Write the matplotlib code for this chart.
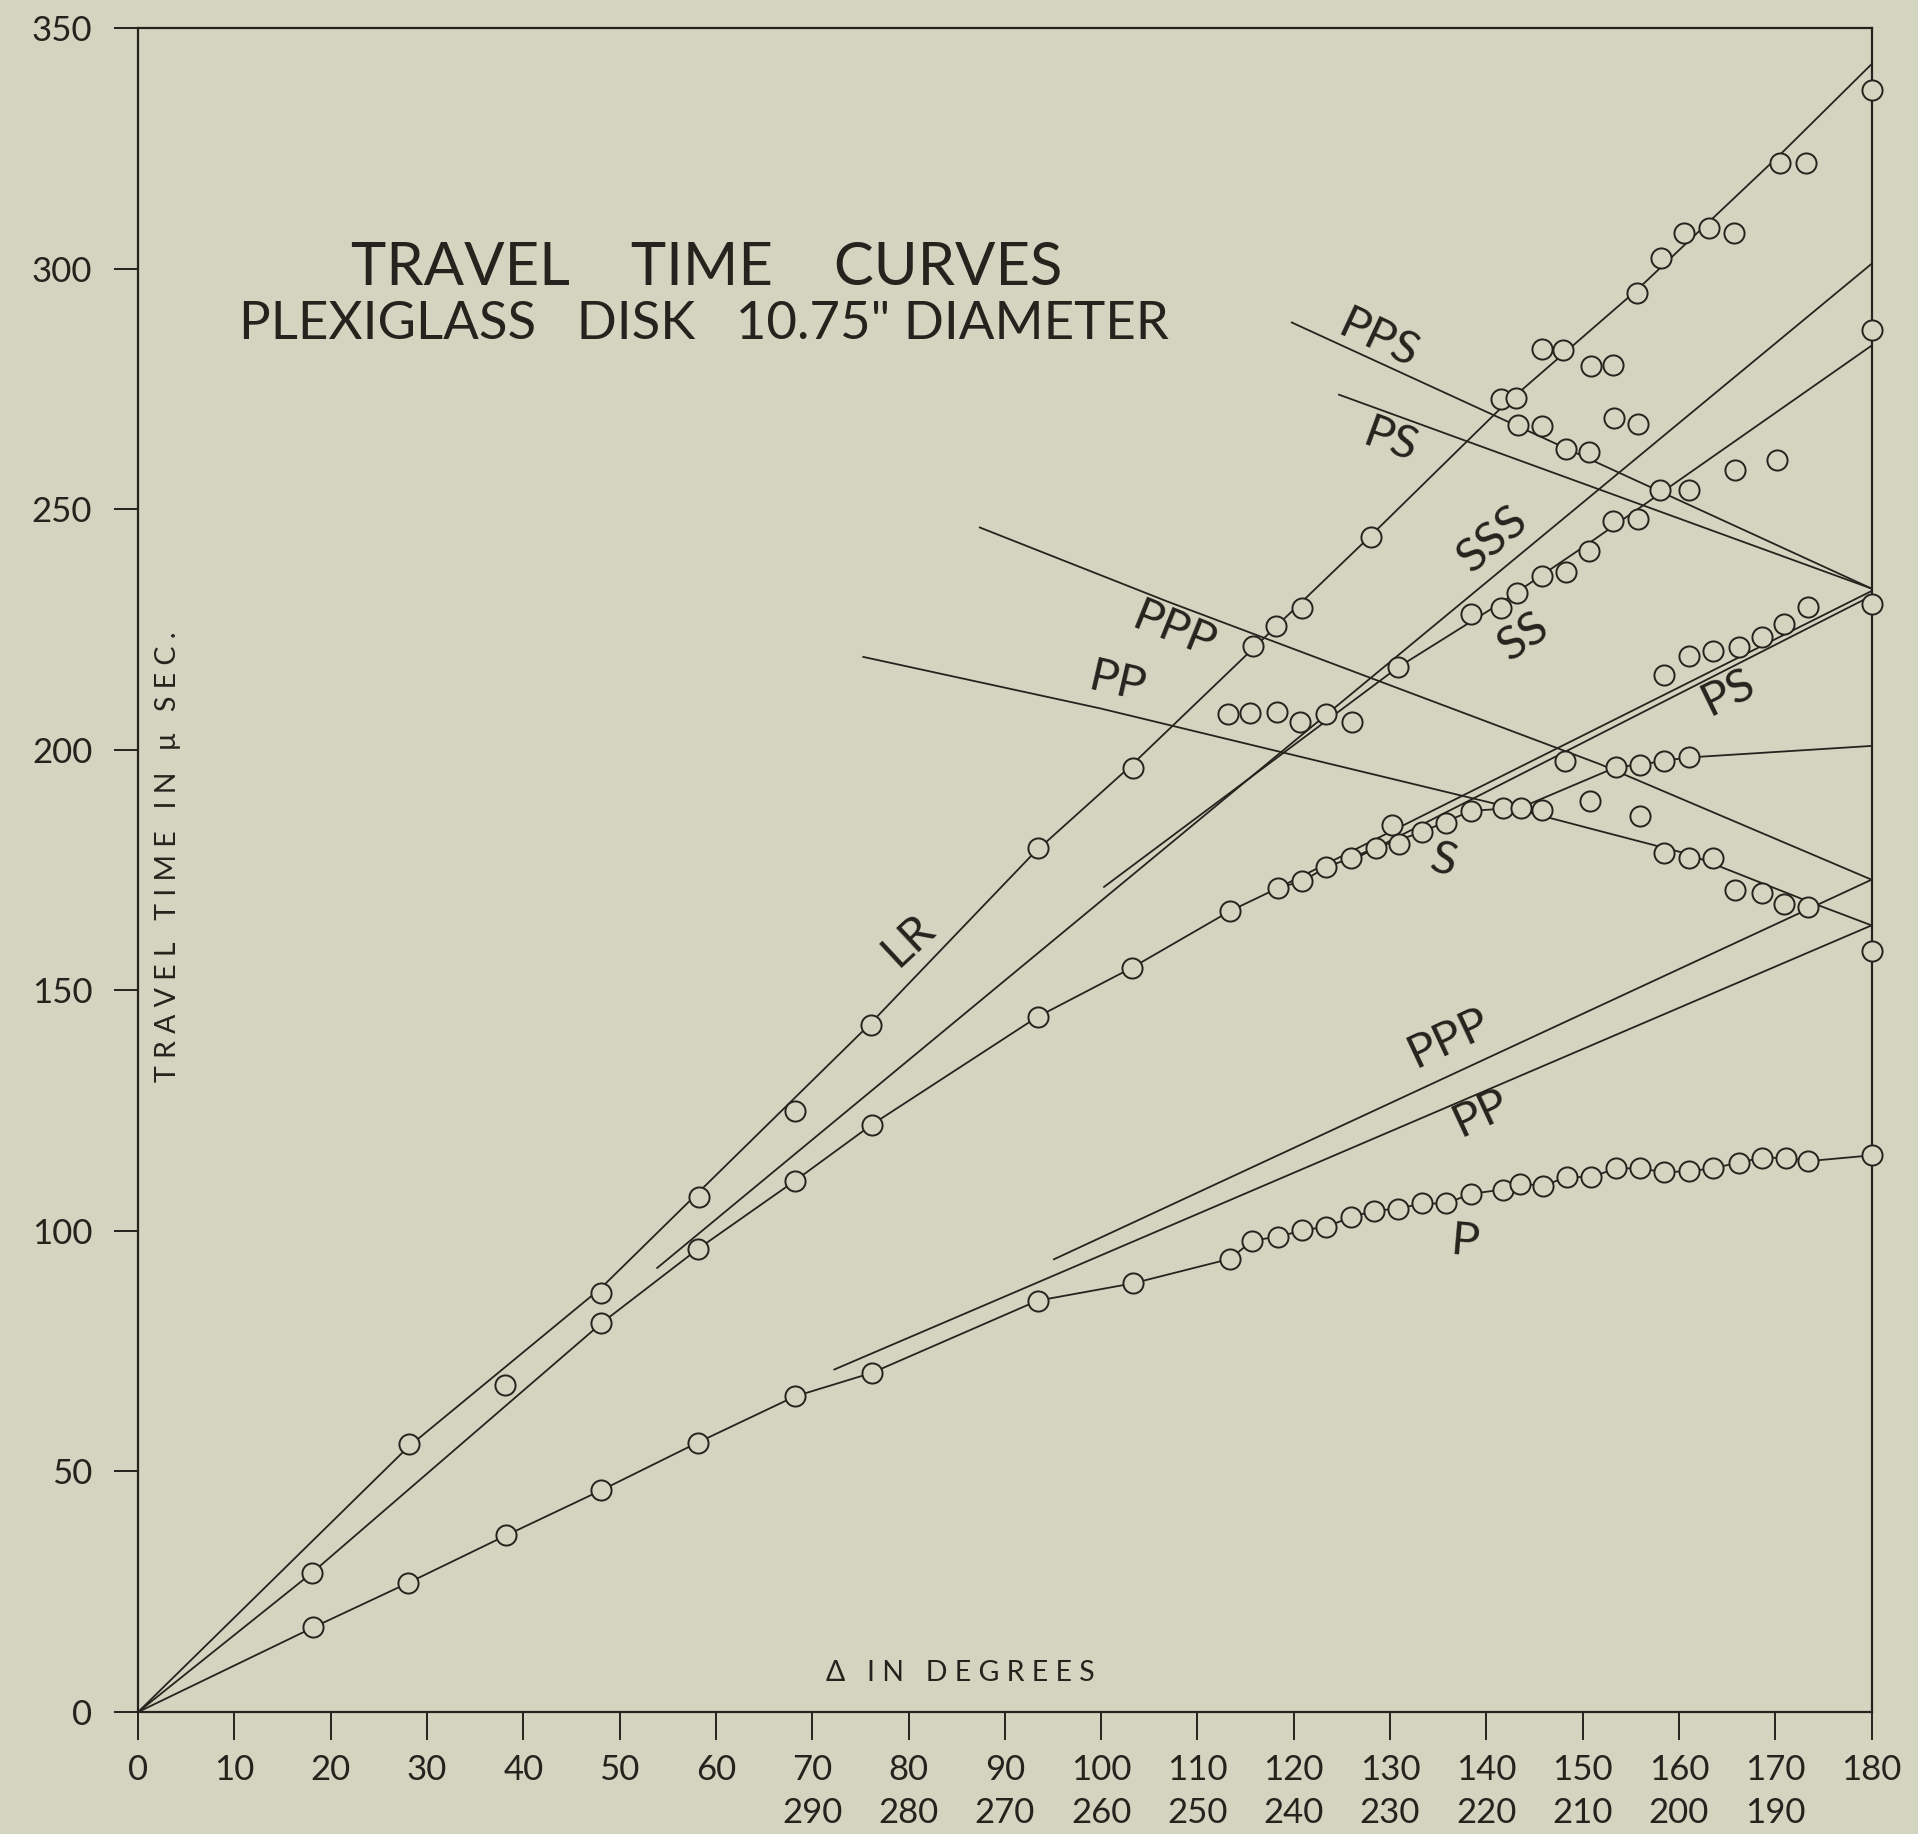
import matplotlib
matplotlib.use('Agg')
import matplotlib.pyplot as plt

# ---------------- data ----------------
# measured points (open circles), grouped by the branch they sit on
lr_x = [28.1, 38.1, 48.1, 58.2, 68.2, 76.1, 93.4, 103.3, 115.8, 118.2, 120.9, 128.0,
        141.5, 143.1, 145.8, 148.0, 150.9, 153.1, 155.6, 158.1, 160.5, 163.1, 165.7,
        170.5, 173.2, 180.0]
lr_y = [55.8, 68.0, 87.1, 107.0, 125.0, 142.8, 179.5, 196.3, 221.5, 225.7, 229.5, 244.3,
        272.8, 273.2, 283.2, 283.0, 279.8, 280.0, 295.0, 302.2, 307.4, 308.4, 307.4,
        322.0, 322.0, 337.2]

s_x = [18.1, 48.1, 58.1, 68.2, 76.2, 93.4, 103.2, 113.4, 118.4, 120.9, 123.4, 125.9,
       128.5, 130.2, 130.9, 133.3, 135.8, 138.4, 141.7, 143.6, 145.8, 153.5, 156.0,
       158.4, 161.0]
s_y = [29.0, 80.8, 96.2, 110.4, 122.1, 144.5, 154.7, 166.5, 171.3, 172.7, 175.6, 177.5,
       179.6, 184.3, 180.4, 182.9, 184.8, 187.3, 187.9, 187.9, 187.5, 196.4, 196.9,
       197.7, 198.4]

p_x = [18.2, 28.0, 38.2, 48.1, 58.1, 68.2, 76.2, 93.4, 103.3, 113.4, 115.7, 118.4,
       120.9, 123.4, 125.9, 128.3, 130.8, 133.3, 135.8, 138.4, 141.7, 143.5, 145.9,
       148.4, 150.9, 153.5, 156.0, 158.4, 161.0, 163.5, 166.2, 168.6, 171.1, 173.4, 180.0]
p_y = [17.6, 26.8, 36.7, 46.1, 56.0, 65.6, 70.5, 85.5, 89.1, 94.2, 98.0, 98.8,
       100.1, 100.9, 102.8, 104.2, 104.6, 105.7, 105.7, 107.7, 108.6, 109.8, 109.4,
       111.2, 111.2, 113.0, 113.0, 112.2, 112.4, 113.0, 114.2, 115.2, 115.2, 114.5, 115.7]

ss_x = [130.8, 138.4, 141.5, 143.2, 145.8, 148.3, 150.7, 153.1, 155.7, 158.0, 161.0, 180.0]
ss_y = [217.1, 228.2, 229.4, 232.5, 236.2, 236.9, 241.4, 247.5, 247.9, 253.9, 253.9, 287.3]

pps_x = [143.3, 145.8, 148.3, 150.7, 153.3, 155.7, 165.8, 170.2]
pps_y = [267.6, 267.2, 262.6, 261.8, 269.0, 267.8, 258.2, 260.2]

ps_x = [158.4, 161.0, 163.5, 166.2, 168.6, 170.9, 173.4, 180.0]
ps_y = [215.5, 219.5, 220.6, 221.3, 223.4, 226.2, 229.7, 230.2]

ppp_x = [113.2, 115.5, 118.3, 120.7, 123.4, 126.0, 148.2, 150.8, 156.0]
ppp_y = [207.4, 207.6, 207.8, 205.7, 207.4, 205.7, 197.6, 189.3, 186.2]

pp_x = [158.4, 161.0, 163.5, 165.8, 168.6, 170.9, 173.4, 180.0]
pp_y = [178.6, 177.6, 177.6, 170.9, 170.2, 167.9, 167.4, 158.2]

# drawn travel-time curves (knots of each line)
lr_line_x = [0, 28, 48, 76, 93, 103, 128, 141.5, 155.6, 170.4, 180]
lr_line_y = [0, 55, 88, 143, 178.5, 196.5, 244.5, 271, 295.5, 323.5, 342.5]

s_line_x = [0] + s_x[:13] + [133.3, 138.4, 143.6, 153.5, 156.0, 158.4, 161.0, 180]
s_line_y = [0] + s_y[:13] + [182.9, 187.3, 188.0, 196.4, 196.9, 197.7, 198.4, 200.8]

p_line_x = [0] + p_x
p_line_y = [0] + p_y

sss_line_x = [53.9, 180]
sss_line_y = [92.3, 301.0]

ss_line_x = [100.3, 130.8, 141.5, 150.7, 160.0, 180]
ss_line_y = [171.5, 217.1, 230.5, 243.0, 256.0, 284.0]

pps_line_x = [119.8, 180]
pps_line_y = [288.8, 233.5]

ps_up_line_x = [124.7, 180]
ps_up_line_y = [273.8, 233.5]

ps_lo_line_x = [118.4, 180]
ps_lo_line_y = [171.3, 233.0]
ps_lo2_line_x = [126.0, 180]
ps_lo2_line_y = [177.0, 232.0]

ppp_desc_x = [87.4, 106.9, 151.8, 180]
ppp_desc_y = [246.2, 230.8, 197.0, 173.0]

pp_desc_x = [75.3, 99.9, 141.7, 151.8, 161.0, 173.4, 180]
pp_desc_y = [219.3, 208.6, 188.4, 183.1, 178.3, 168.5, 163.5]

ppp_asc_x = [95.1, 180]
ppp_asc_y = [94.1, 173.0]

pp_asc_x = [72.3, 180]
pp_asc_y = [71.2, 163.5]

x_ticks = list(range(0, 181, 10))
y_ticks = list(range(0, 351, 50))
x_ticks_back = list(range(70, 171, 10))      # second row: 360 - delta

# curve names (text, x, y, angle)
names = [('LR', 80.0, 160.5, 43), ('PPS', 128.8, 285.2, -25), ('PS', 130.0, 264.1, -20),
         ('SSS', 140.6, 243.7, 40), ('SS', 143.8, 223.4, 34), ('PPP', 107.6, 224.6, -22),
         ('PP', 101.7, 214.0, -13), ('PS', 165.1, 212.0, 26), ('S', 135.5, 176.9, -15),
         ('PPP', 136.1, 140.1, 25), ('PP', 139.4, 124.4, 25), ('P', 137.8, 97.6, -5)]

# ---------------- figure ----------------
BG = '#d4d5c0'
INK = '#26231e'

plt.rcParams['font.family'] = ['Lato', 'DejaVu Sans']
plt.rcParams['font.weight'] = 'normal'
plt.rcParams['text.color'] = INK

fig = plt.figure(figsize=(19.18, 18.34), dpi=100, facecolor=BG)
ax = fig.add_axes([0.0720, 0.0665, 0.9038, 0.9182], facecolor=BG)
ax.set_xlim(0, 180)
ax.set_ylim(0, 350)

curves = [(lr_line_x, lr_line_y), (s_line_x, s_line_y), (p_line_x, p_line_y),
          (sss_line_x, sss_line_y), (ss_line_x, ss_line_y), (pps_line_x, pps_line_y),
          (ps_up_line_x, ps_up_line_y), (ps_lo_line_x, ps_lo_line_y),
          (ps_lo2_line_x, ps_lo2_line_y), (ppp_desc_x, ppp_desc_y),
          (pp_desc_x, pp_desc_y), (ppp_asc_x, ppp_asc_y), (pp_asc_x, pp_asc_y)]
for xs, ys in curves:
    ax.plot(xs, ys, color=INK, lw=1.3, zorder=2, clip_on=False)

points = [(lr_x, lr_y), (s_x, s_y), (p_x, p_y), (ss_x, ss_y), (pps_x, pps_y),
          (ps_x, ps_y), (ppp_x, ppp_y), (pp_x, pp_y)]
for xs, ys in points:
    ax.plot(xs, ys, 'o', ms=14.5, mfc=BG, mec=INK, mew=1.4, zorder=3, clip_on=False)

for sp in ax.spines.values():
    sp.set_color(INK)
    sp.set_linewidth(1.6)

ax.set_xticks(x_ticks)
ax.set_yticks(y_ticks)
ax.tick_params(axis='x', length=20, width=1.4, pad=10, labelsize=25, colors=INK)
ax.tick_params(axis='y', length=17, width=1.4, pad=16, labelsize=25, colors=INK)

for xb in x_ticks_back:
    ax.text(xb, -0.06, str(360 - xb), transform=ax.get_xaxis_transform(),
            ha='center', va='center', fontsize=25)

ax.text(0.0173, 0.508, 'T R A V E L   T I M E   I N   \u03bc   S E C .', transform=ax.transAxes,
        rotation=90, ha='center', va='center', fontsize=20.5)
ax.text(0.4743, 0.0231, '\u0394   I N   D E G R E E S', transform=ax.transAxes,
        ha='center', va='center', fontsize=20.5)

ax.text(0.328, 0.8576, 'TRAVEL    TIME    CURVES', transform=ax.transAxes,
        ha='center', va='center', fontsize=43)
ax.text(0.3265, 0.824, 'PLEXIGLASS   DISK   10.75" DIAMETER', transform=ax.transAxes,
        ha='center', va='center', fontsize=38)

for txt, tx, ty, rot in names:
    ax.text(tx, ty, txt, rotation=rot, ha='center', va='center', fontsize=34,
            rotation_mode='anchor')

fig.savefig('out.png', dpi=100, facecolor=BG)
